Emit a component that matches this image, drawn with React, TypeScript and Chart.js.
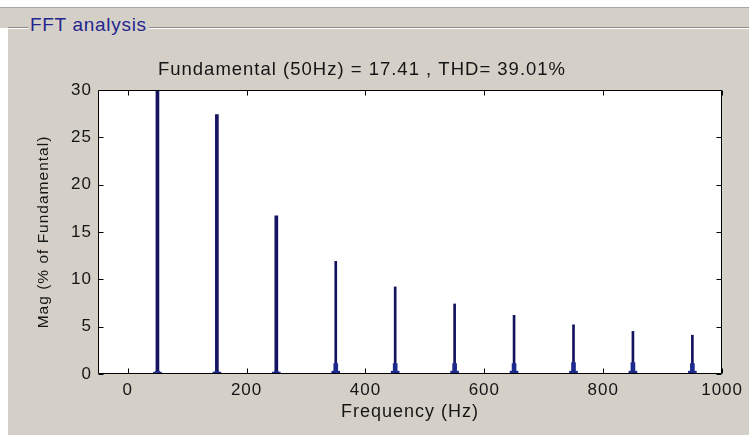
import React, { useEffect, useRef } from "react";
import { Chart, registerables } from "chart.js";

Chart.register(...registerables);

// ---- data ----
const harmonicFreqs = [50, 150, 250, 350, 450, 550, 650, 750, 850, 950];
const harmonicMags = [100, 27.4, 16.7, 11.9, 9.2, 7.4, 6.2, 5.2, 4.5, 4.1];
const leakageMags = [0.3, 0.3, 0.3, 1.1, 1.1, 1.1, 1.1, 1.2, 1.2, 1.1];
const leakageBaseMags = [0.2, 0.2, 0.2, 0.3, 0.3, 0.3, 0.3, 0.3, 0.3, 0.3];
const xTicks = [0, 200, 400, 600, 800, 1000];
const yTicks = [0, 5, 10, 15, 20, 25, 30];
const xRange = [-50, 1000];
const yRange = [0, 30];
const chartTitle = "Fundamental (50Hz) = 17.41 , THD= 39.01%";
const xTitle = "Frequency (Hz)";
const yTitle = "Mag (% of Fundamental)";
const panelTitle = "FFT analysis";

const FONT = "'Liberation Sans', Arial, sans-serif";
const TEXT = "#151515";
const STEM = "#13135f";
const FOOT = "#1d2a8e";
const PANEL = "#d4d0c8";

const toPoints = (vals: number[], from: number, to: number) =>
  harmonicFreqs.slice(from, to).map((f, i) => ({ x: f, y: vals[from + i] }));

const boxPlugin = {
  id: "matlabBox",
  beforeUpdate(chart: any) {
    chart.ctx.letterSpacing = "1px";
  },
  beforeDraw(chart: any) {
    const { ctx, chartArea: a } = chart;
    ctx.letterSpacing = "1px";
    ctx.save();
    ctx.fillStyle = "#ffffff";
    ctx.fillRect(a.left, a.top, a.right - a.left, a.bottom - a.top);
    ctx.restore();
  },
  afterDatasetsDraw(chart: any) {
    const { ctx, chartArea: a, scales } = chart;
    const L = Math.round(a.left) + 0.5;
    const R = Math.round(a.right) - 0.5;
    const T = Math.round(a.top) + 0.5;
    const B = Math.round(a.bottom) - 0.5;
    const len = 5;
    ctx.save();
    ctx.strokeStyle = "#000";
    ctx.lineWidth = 1;
    ctx.beginPath();
    ctx.rect(L, T, R - L, B - T);
    xTicks.forEach((v) => {
      const px = Math.round(scales.x.getPixelForValue(v)) + 0.5;
      ctx.moveTo(px, B);
      ctx.lineTo(px, B - len);
      ctx.moveTo(px, T);
      ctx.lineTo(px, T + len);
    });
    yTicks.forEach((v) => {
      const py = Math.round(scales.y.getPixelForValue(v)) + 0.5;
      ctx.moveTo(L, py);
      ctx.lineTo(L + len, py);
      ctx.moveTo(R, py);
      ctx.lineTo(R - len, py);
    });
    ctx.stroke();
    ctx.restore();
  },
};

export default function App() {
  const ref = useRef<HTMLCanvasElement>(null);

  useEffect(() => {
    if (!ref.current) return;
    const chart = new Chart(ref.current, {
      type: "bar",
      data: {
        datasets: [
          {
            data: toPoints(leakageBaseMags, 0, harmonicFreqs.length),
            backgroundColor: FOOT,
            barThickness: 8,
            grouped: false,
          } as any,
          {
            data: toPoints(leakageMags, 0, harmonicFreqs.length),
            backgroundColor: FOOT,
            barThickness: 4,
            grouped: false,
          } as any,
          {
            data: toPoints(harmonicMags, 0, 3),
            backgroundColor: STEM,
            barThickness: 3,
            grouped: false,
          } as any,
          {
            data: toPoints(harmonicMags, 3, harmonicFreqs.length),
            backgroundColor: STEM,
            barThickness: 2,
            grouped: false,
          } as any,
        ],
      },
      options: {
        animation: false,
        responsive: false,
        devicePixelRatio: 1,
        layout: { padding: { top: 59, left: 0, right: 25, bottom: 0 } },
        plugins: {
          legend: { display: false },
          tooltip: { enabled: false },
          title: {
            display: true,
            text: chartTitle,
            color: TEXT,
            font: { family: FONT, size: 18.5, weight: "normal", lineHeight: "22px" },
            padding: { top: 0, bottom: 9 },
          },
        },
        scales: {
          x: {
            type: "linear",
            offset: false,
            min: xRange[0],
            max: xRange[1],
            grid: { display: false, drawTicks: false, offset: false },
            border: { display: false },
            afterBuildTicks: (s: any) => {
              s.ticks = xTicks.map((v) => ({ value: v }));
            },
            afterFit: (s: any) => {
              s.height = 61;
            },
            ticks: {
              color: TEXT,
              font: { family: FONT, size: 17 },
              padding: 6,
              maxRotation: 0,
              autoSkip: false,
              callback: (v: any) => String(v),
            },
            title: {
              display: true,
              text: xTitle,
              color: TEXT,
              font: { family: FONT, size: 18, lineHeight: "22px" },
              padding: { top: 0, bottom: 12 },
            },
          },
          y: {
            type: "linear",
            min: yRange[0],
            max: yRange[1],
            grid: { display: false, drawTicks: false },
            border: { display: false },
            afterBuildTicks: (s: any) => {
              s.ticks = yTicks.map((v) => ({ value: v }));
            },
            afterFit: (s: any) => {
              s.width = 98;
            },
            ticks: {
              color: TEXT,
              font: { family: FONT, size: 17 },
              padding: 6,
              autoSkip: false,
              callback: (v: any) => String(v),
            },
            title: {
              display: true,
              text: yTitle,
              color: TEXT,
              font: { family: FONT, size: 15.5, lineHeight: "18px" },
              padding: { top: 35, bottom: 0 },
            },
          },
        },
      } as any,
      plugins: [boxPlugin as any],
    });
    return () => chart.destroy();
  }, []);

  return (
    <>
      <div
        style={{
          position: "fixed",
          left: 0,
          top: 7,
          right: 0,
          height: 20,
          background: PANEL,
          borderTop: "1px solid #a6a6a6",
        }}
      />
      <div
        style={{
          position: "fixed",
          left: 8,
          top: 27,
          right: 0,
          bottom: 0,
          background: PANEL,
          borderTop: "1px solid #8a8a8a",
          boxShadow: "inset 0 1px 0 #ffffff",
        }}
      />
      <span
        style={{
          position: "fixed",
          left: 28,
          top: 15,
          padding: "0 2px",
          background: PANEL,
          color: "#25258f",
          fontFamily: FONT,
          fontSize: 19,
          lineHeight: "19px",
          letterSpacing: "0.7px",
          whiteSpace: "nowrap",
        }}
      >
        {panelTitle}
      </span>
      <canvas
        ref={ref}
        width={749}
        height={435}
        style={{ position: "fixed", left: 0, top: 0, width: 749, height: 435, pointerEvents: "none" }}
      />
    </>
  );
}
